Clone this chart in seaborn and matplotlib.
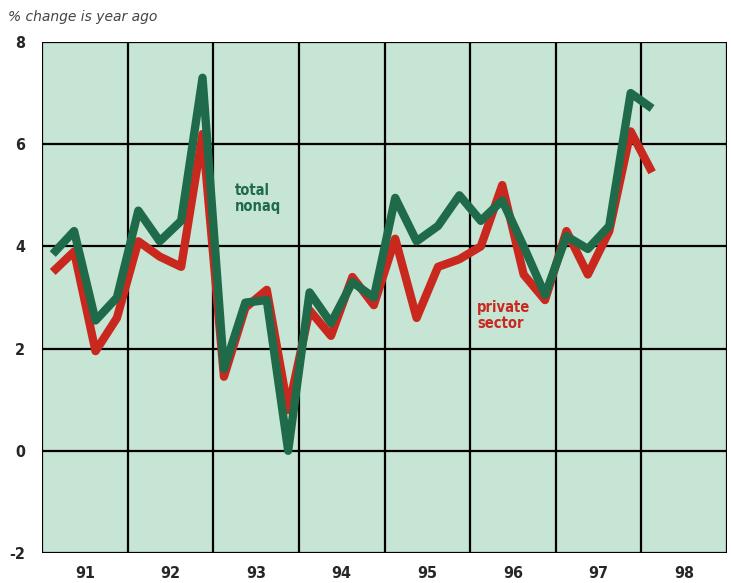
import matplotlib.pyplot as plt
import numpy as np
import pandas as pd
import seaborn as sns

# quarterly values, 1991 Q1 .. 1998 Q1
years = [1991, 1992, 1993, 1994, 1995, 1996, 1997, 1998]
total_nonag = [
    3.85, 4.3, 2.55, 3.0,
    4.7, 4.1, 4.5, 7.3,
    1.6, 2.9, 2.95, 0.0,
    3.1, 2.5, 3.3, 3.0,
    4.95, 4.1, 4.4, 5.0,
    4.5, 4.9, 4.0, 3.05,
    4.2, 3.95, 4.4, 7.0,
    6.7,
]
private_sector = [
    3.5, 3.9, 1.95, 2.6,
    4.1, 3.8, 3.6, 6.2,
    1.45, 2.8, 3.15, 0.8,
    2.75, 2.25, 3.4, 2.85,
    4.15, 2.6, 3.6, 3.75,
    4.0, 5.2, 3.45, 2.95,
    4.3, 3.45, 4.3, 6.25,
    5.45,
]
year_labels = ["91", "92", "93", "94", "95", "96", "97", "98"]
y_ticks = [-2, 0, 2, 4, 6, 8]

# quarter midpoints as fractional years
n = len(total_nonag)
quarter_x = [years[0] + (i + 0.5) / 4 for i in range(n)]

df = pd.DataFrame({
    "x": quarter_x * 2,
    "value": private_sector + total_nonag,
    "series": ["private sector"] * n + ["total nonag"] * n,
})

sns.set_style("white")
cond = ["DejaVu Sans"]

fig = plt.figure(figsize=(7.31, 5.83), dpi=100)
ax = fig.add_axes([42 / 731, 1 - 553 / 583, 685 / 731, 511 / 583])
ax.set_facecolor("#c6e5d5")

green = "#1f6b49"
red = "#c9281f"

sns.lineplot(data=df, x="x", y="value", hue="series",
             palette={"private sector": red, "total nonag": green},
             hue_order=["private sector", "total nonag"],
             linewidth=6, legend=False, ax=ax, zorder=3)
for line in ax.lines:
    line.set_solid_joinstyle("round")
    line.set_solid_capstyle("butt")

ax.set_xlim(1991, 1999)
ax.set_ylim(-2, 8)

# grid
for yv in y_ticks:
    ax.axhline(yv, color="black", lw=1.6, zorder=2)
for xv in range(1991, 2000):
    ax.axvline(xv, color="black", lw=1.6, zorder=2)

ax.set_yticks(y_ticks)
ax.set_yticklabels([str(v) for v in y_ticks], fontsize=11.5, fontweight="bold",
                   family=cond, stretch="condensed")
ax.set_xticks(range(1991, 2000))
ax.set_xticklabels([])
ax.set_xticks([y + 0.5 for y in years], minor=True)
ax.set_xticklabels(year_labels, minor=True, fontsize=11.5, fontweight="bold",
                   family=cond, stretch="condensed")
ax.tick_params(axis="x", which="major", direction="out", length=10, width=1.6,
               color="black")
ax.tick_params(axis="x", which="minor", length=0, pad=9)
ax.tick_params(axis="y", direction="out", length=9, width=1.6, color="black",
               pad=3)
for s in ax.spines.values():
    s.set_visible(False)
ax.set_xlabel("")
ax.set_ylabel("")

ax.text(1993.25, 5.25, "total\nnonaq", color=green, fontsize=10.5,
        fontweight="bold", family=cond, stretch="condensed", va="top",
        ha="left", linespacing=1.1, zorder=4)
ax.text(1996.08, 2.95, "private\nsector", color=red, fontsize=10.5,
        fontweight="bold", family=cond, stretch="condensed", va="top",
        ha="left", linespacing=1.1, zorder=4)

fig.text(8 / 731, 1 - 17 / 583, "% change is year ago", fontsize=10,
         style="italic", color="#444444", va="center", ha="left")

fig.savefig("out.png", dpi=100)
